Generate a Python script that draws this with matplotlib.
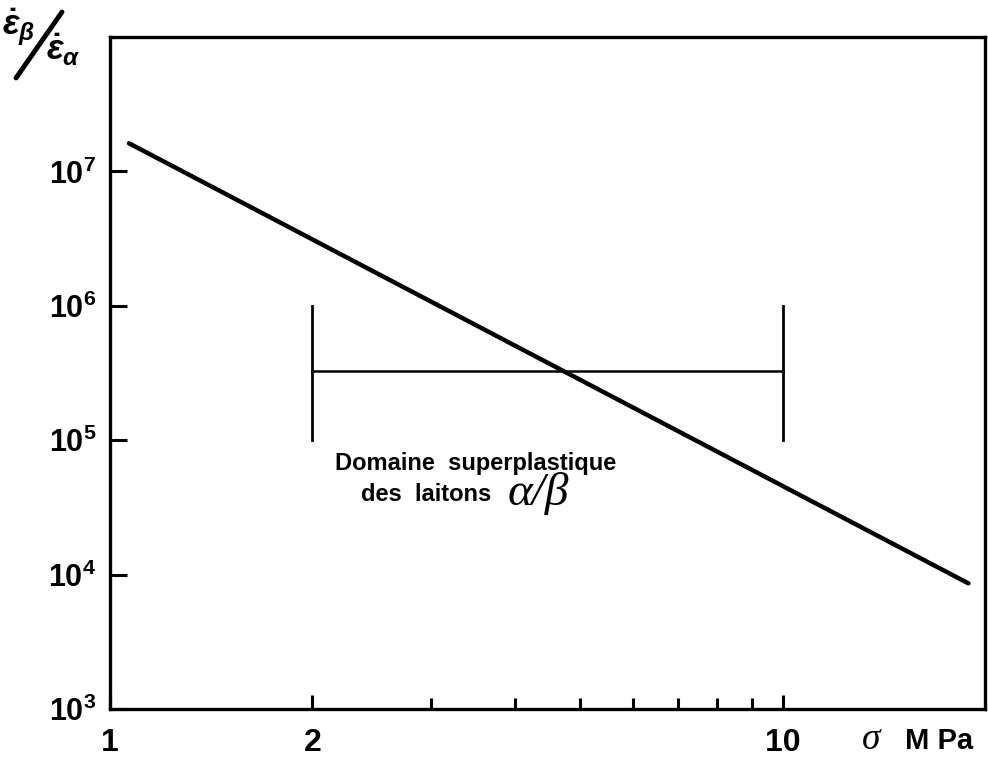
import matplotlib
matplotlib.use("Agg")
import matplotlib.pyplot as plt
from matplotlib.lines import Line2D
from matplotlib.ticker import FixedLocator, FixedFormatter, NullFormatter

plt.rcParams['font.family'] = ['Liberation Sans', 'DejaVu Sans']
plt.rcParams['font.weight'] = 'bold'
plt.rcParams['mathtext.fontset'] = 'custom'
plt.rcParams['mathtext.rm'] = 'Liberation Sans:bold'
plt.rcParams['mathtext.it'] = 'Liberation Sans:bold:italic'
plt.rcParams['mathtext.bf'] = 'Liberation Sans:bold'

# donnees
sigma = [1.067, 18.9]              # MPa
rapport = [1.62e7, 8.6e3]          # eps_beta / eps_alpha

domaine_sigma = [2, 10]            # domaine superplastique des laitons
domaine_niveau = 3.25e5
domaine_barres = [1e5, 1e6]

x_ticks = [1, 2, 10]
x_labels = ['1', '2', '10']
x_minor = [3, 4, 5, 6, 7, 8, 9]
y_ticks = [1e3, 1e4, 1e5, 1e6, 1e7]
y_labels = [r'$10^{3}$', r'$10^{4}$', r'$10^{5}$', r'$10^{6}$', r'$10^{7}$']

fig = plt.figure(figsize=(9.88, 7.61), dpi=100)
ax = fig.add_axes([110/988, 1 - 709/761, 875/988, 672/761])
ax.set_xscale('log')
ax.set_yscale('log')
ax.set_xlim(1, 20)
ax.set_ylim(1e3, 1e8)

# courbe
ax.plot(sigma, rapport, color='black', lw=3.2, solid_capstyle='round')

# domaine superplastique
ax.plot(domaine_sigma, [domaine_niveau, domaine_niveau], color='black', lw=1.8)
for s in domaine_sigma:
    ax.plot([s, s], domaine_barres, color='black', lw=2)

ax.text(3.5, 6.7e4, 'Domaine  superplastique', ha='center', va='center',
        fontsize=17, fontweight='heavy')
ax.text(2.36, 3.95e4, 'des  laitons', ha='left', va='center',
        fontsize=17, fontweight='heavy')
ax.text(3.9, 4.0e4, 'α/β', ha='left', va='center', fontsize=34,
        family='Liberation Serif', style='italic', fontweight='normal')

# axes
for side in ['top', 'right', 'bottom', 'left']:
    ax.spines[side].set_linewidth(2.4)

ax.xaxis.set_major_locator(FixedLocator(x_ticks))
ax.xaxis.set_major_formatter(FixedFormatter(x_labels))
ax.xaxis.set_minor_locator(FixedLocator(x_minor))
ax.xaxis.set_minor_formatter(NullFormatter())
ax.yaxis.set_major_locator(FixedLocator(y_ticks))
ax.yaxis.set_major_formatter(FixedFormatter(y_labels))
ax.yaxis.set_minor_locator(FixedLocator([]))

ax.tick_params(axis='x', which='both', direction='in', length=8, width=2.2,
               labelsize=23, pad=14)
ax.tick_params(axis='y', which='major', direction='in', length=12, width=2.2,
               labelsize=22, pad=10)
for lab in ax.get_xticklabels() + ax.get_yticklabels():
    lab.set_fontweight('bold')
ax.tick_params(axis='x', which='major', length=10)

# unite de l'axe x
ax.text(0.87, -0.046, 'σ', transform=ax.transAxes, ha='center', va='center',
        fontsize=27, family='Liberation Serif', style='italic', fontweight='normal')
ax.text(0.948, -0.048, 'M Pa', transform=ax.transAxes, ha='center', va='center',
        fontsize=21, fontweight='heavy')

# grandeur de l'axe y
fig.text(19/988, 1 - 27/761, r'$\dot{\varepsilon}_{\beta}$', ha='center', va='center',
         fontsize=25)
fig.text(63/988, 1 - 50/761, r'$\dot{\varepsilon}_{\alpha}$', ha='center', va='center',
         fontsize=25)
fig.add_artist(Line2D([16/988, 62/988], [1 - 78/761, 1 - 12/761],
                      color='black', lw=3.5, solid_capstyle='round'))

fig.savefig('out.png', dpi=100)
